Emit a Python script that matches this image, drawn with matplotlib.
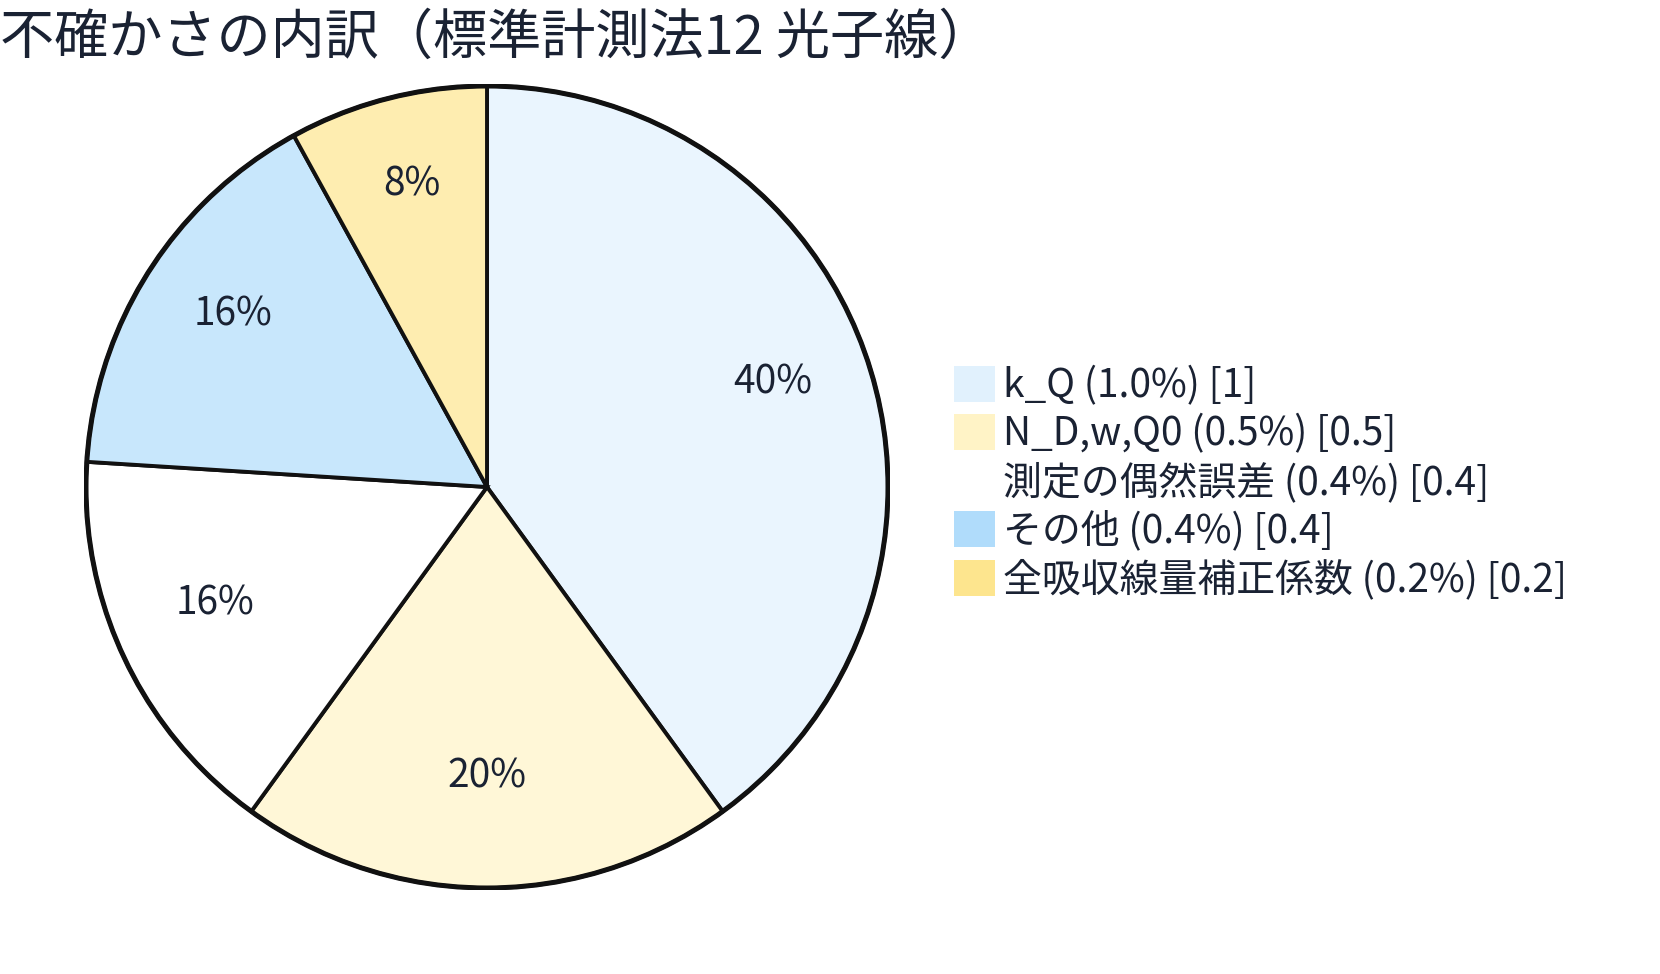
import matplotlib
matplotlib.use('Agg')
import matplotlib.pyplot as plt
from matplotlib.patches import Patch, Circle
from matplotlib.colors import to_rgb

plt.rcParams['font.family'] = ['Noto Sans CJK JP', 'DejaVu Sans']

# 不確かさの内訳データ
names = ['k_Q', 'N_D,w,Q0', '測定の偶然誤差', 'その他', '全吸収線量補正係数']
rel_unc = ['1.0%', '0.5%', '0.4%', '0.4%', '0.2%']
values = [1, 0.5, 0.4, 0.4, 0.2]
colors = ['#E1F1FD', '#FFF3C6', '#FFFFFF', '#B0DCFB', '#FDE58E']

title = '不確かさの内訳（標準計測法12 光子線）'
text_color = '#1A2233'
edge_color = '#111111'


def lighten(c, alpha=0.7):
    # 白背景に alpha で重ねた色 (線は不透明のままにするため)
    rgb = to_rgb(c)
    return tuple(alpha * v + (1 - alpha) for v in rgb)


W, H = 1660, 974
fig = plt.figure(figsize=(W / 100, H / 100), dpi=100)
fig.patch.set_facecolor('white')

# 円の中心 (487, 487) 半径 403px
cx, cy, r = 487, 487, 403
ax = fig.add_axes([(cx - r) / W, (H - cy - r) / H, 2 * r / W, 2 * r / H])

wedges, texts, autotexts = ax.pie(
    values,
    colors=[lighten(c) for c in colors],
    startangle=90,
    counterclock=False,
    autopct=lambda p: f'{p:.0f}%',
    pctdistance=0.75,
    wedgeprops=dict(edgecolor=edge_color, linewidth=2.8),
    textprops=dict(color=text_color, fontsize=28),
)
for t in autotexts:
    x, y = t.get_position()
    t.set_position((x, y + 0.028))
ax.add_patch(Circle((0, 0), 1, facecolor='none', edgecolor=edge_color,
                    linewidth=3.6, zorder=5))
ax.set_xlim(-1.005, 1.005)
ax.set_ylim(-1.005, 1.005)
ax.axis('off')

# 凡例
handles = [Patch(facecolor=c, edgecolor='none') for c in colors]
labels = [f'{n} ({u}) [{v:g}]' for n, u, v in zip(names, rel_unc, values)]
fig.legend(
    handles, labels,
    loc='upper left',
    bbox_to_anchor=(954 / W, 1 - 366 / H),
    frameon=False,
    borderpad=0,
    borderaxespad=0,
    fontsize=28,
    handlelength=1.05,
    handleheight=1.05,
    handletextpad=0.2,
    labelspacing=0.2,
    labelcolor=text_color,
)

fig.text(0.0, 1 - 54 / H, title, fontsize=39, color=text_color,
         ha='left', va='baseline')

fig.savefig('out.png', dpi=100)
